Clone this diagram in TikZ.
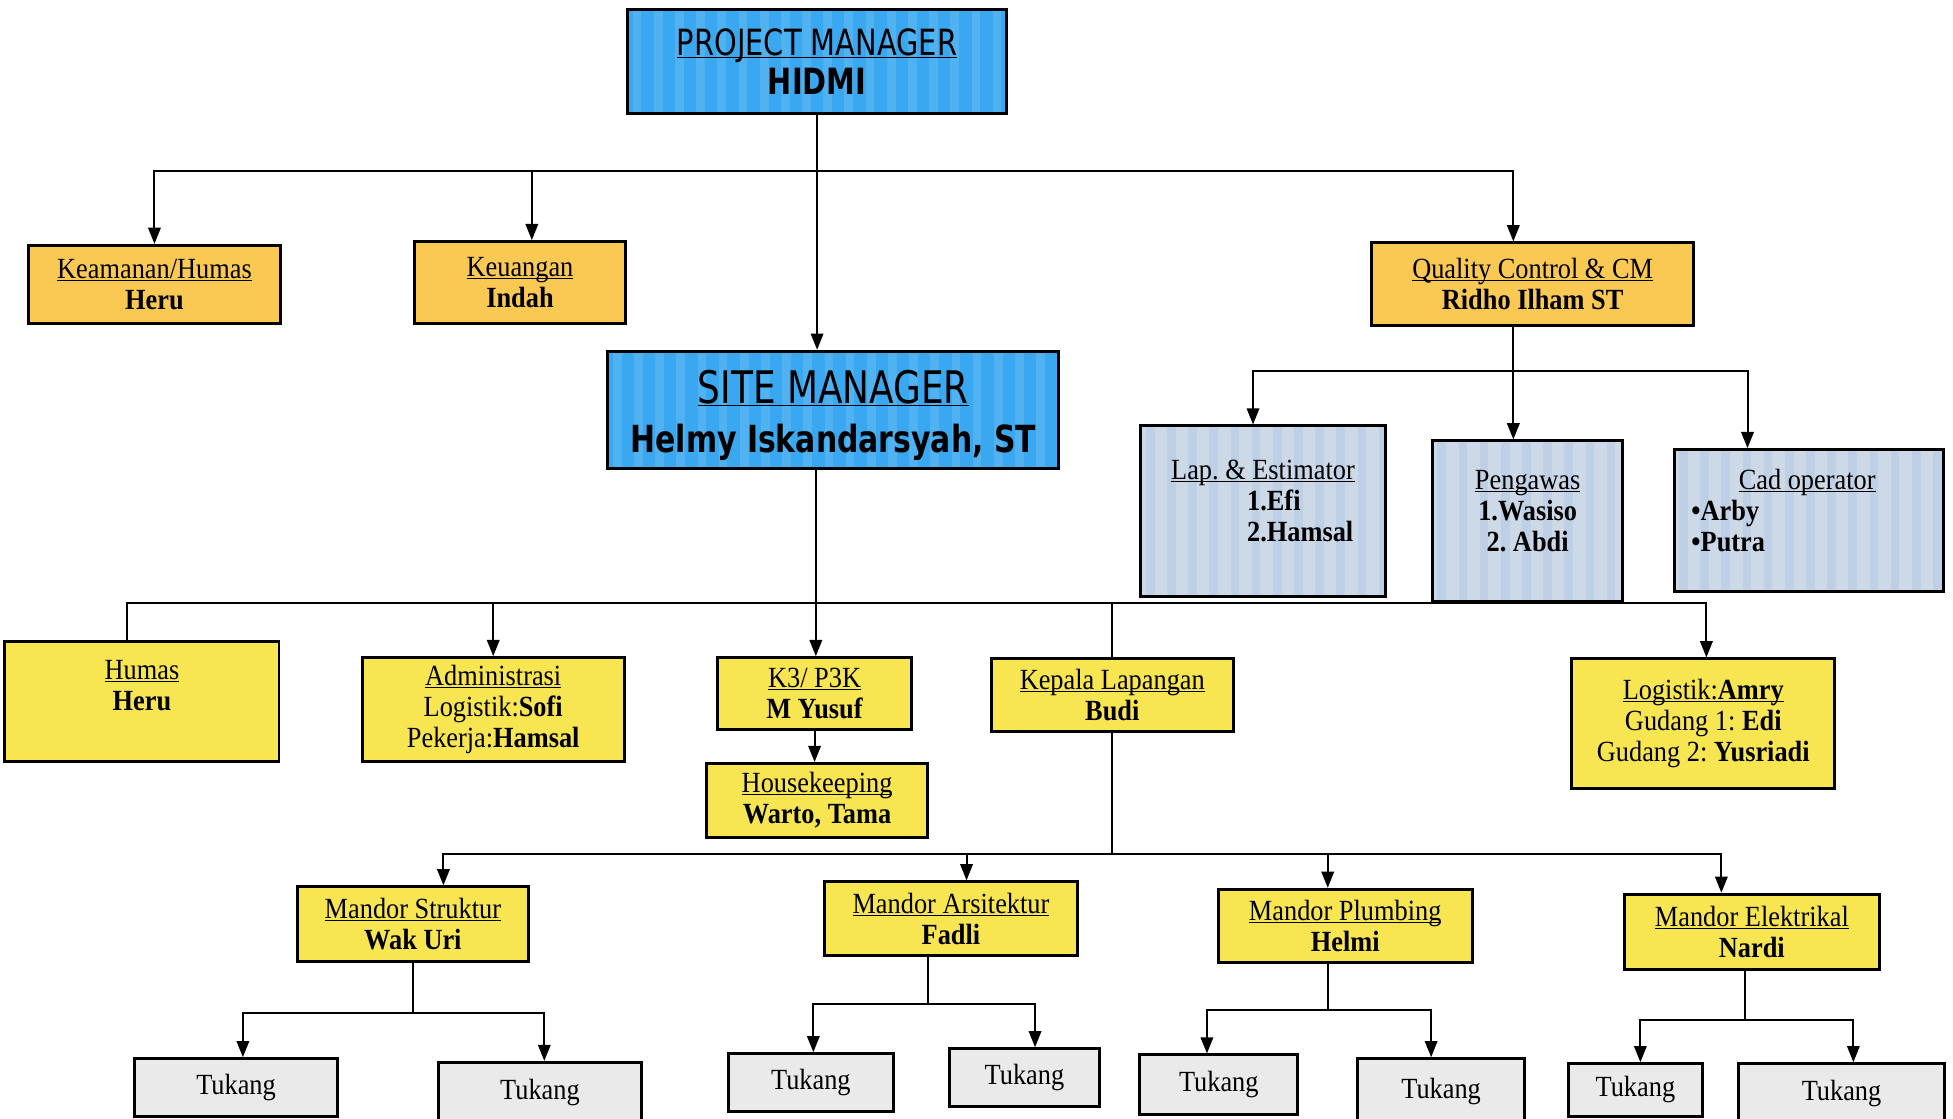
\documentclass[tikz,border=0pt]{standalone}
\usepackage{fontspec}
\setmainfont{Liberation Serif}[FakeStretch = 0.9]
\newfontfamily\headfont{DejaVu Sans}[FakeStretch = 0.8]
\usetikzlibrary{arrows.meta}
\frenchspacing

\definecolor{pmblue}{RGB}{58,168,240}
\definecolor{topyellow}{RGB}{249,201,84}
\definecolor{boxyellow}{RGB}{248,229,82}
\definecolor{qcgray}{RGB}{206,217,231}
\definecolor{qcstripe}{RGB}{150,188,228}
\definecolor{tukanggray}{RGB}{234,234,234}

% underline just below the baseline
\newcommand{\undl}[1]{\underline{\setbox0=\hbox{#1}\dp0=0pt\box0}}

\tikzset{
  box/.style = {draw, line width = 2.4pt, align = center, inner sep = 0pt,
    font = \fontsize{23.5}{25}\selectfont},
  stripes/.style = {path picture = {
      \foreach \s in {0, 1, ..., 22}
        \fill [#1] ([xshift = \s * 17pt + 4pt] path picture bounding box.north west)
          rectangle ([xshift = \s * 17pt + 11pt] path picture bounding box.south west);}},
  blue box/.style = {box, fill = pmblue, stripes = {white, opacity = 0.12}},
  top box/.style = {box, fill = topyellow},
  yellow box/.style = {box, fill = boxyellow},
  gray box/.style = {box, fill = qcgray, stripes = {qcstripe, opacity = 0.3}},
  tukang box/.style = {box, fill = tukanggray},
  line/.style = {line width = 1.6pt},
  arrow/.style = {line width = 1.6pt, -{Triangle[length = 13pt, width = 10pt]}}
}

\begin{document}
\begin{tikzpicture}[x = 1pt, y = -1pt]
  \useasboundingbox (0, 0) rectangle (1568, 898);
  \fill [white] (0, 0) rectangle (1568, 898);

  % top
  \node [blue box, minimum width = 304pt, minimum height = 83pt,
    font = \headfont\fontsize{29}{31}\selectfont] (pm) at (656, 49.5)
    {\undl{PROJECT MANAGER}\\\textbf{HIDMI}};
  \node [top box, minimum width = 202pt, minimum height = 63pt] (keamanan) at (124, 228.5)
    {\undl{Keamanan/Humas}\\\textbf{Heru}};
  \node [top box, minimum width = 169pt, minimum height = 66pt] (keuangan) at (417.5, 227)
    {\undl{Keuangan}\\\textbf{Indah}};
  \node [top box, minimum width = 259pt, minimum height = 66pt] (qc) at (1230.5, 228)
    {\undl{Quality Control \& CM}\\\textbf{Ridho Ilham ST}};
  \node [blue box, minimum width = 362pt, minimum height = 94pt,
    font = \headfont\fontsize{36}{39}\selectfont] (sm) at (669, 329)
    {\mbox{}\\[-3pt]\undl{SITE MANAGER}\\{\fontsize{30}{39}\selectfont\bfseries Helmy Iskandarsyah, ST}};

  % quality control staff
  \node [gray box, minimum width = 196pt, minimum height = 137pt, align = left] (lap) at (1014, 410.5)
    {\spaceskip=0pt\relax\undl{Lap. \& Estimator}\\\hspace*{61pt}\textbf{1.Efi}\\\hspace*{61pt}\textbf{2.Hamsal}\\[-8pt]\mbox{}};
  \node [gray box, minimum width = 153pt, minimum height = 129pt] (pengawas) at (1226.5, 418.5)
    {\undl{Pengawas}\\\textbf{1.Wasiso}\\\textbf{2. Abdi}\\[-8pt]\mbox{}};
  \node [gray box, minimum width = 216pt, minimum height = 114pt, inner xsep = 14pt,
    text width = 188pt, align = left] (cad) at (1452, 418)
    {\spaceskip=0pt\relax\hspace*{38pt}\undl{Cad operator}\\\textbf{•Arby}\\\textbf{•Putra}\\[-8pt]\mbox{}};

  % site staff
  \node [yellow box, minimum width = 220pt, minimum height = 96pt] (humas) at (114, 563)
    {\undl{Humas}\\\textbf{Heru}\\\mbox{}};
  \node [yellow box, minimum width = 210pt, minimum height = 83pt] (admin) at (396, 569.5)
    {\undl{Administrasi}\\Logistik:\textbf{Sofi}\\Pekerja:\textbf{Hamsal}};
  \node [yellow box, minimum width = 156pt, minimum height = 58pt] (kthree) at (654, 557)
    {\undl{K3/ P3K}\\\textbf{M Yusuf}};
  \node [yellow box, minimum width = 178pt, minimum height = 59pt] (house) at (656, 642.5)
    {\undl{Housekeeping}\\\textbf{Warto, Tama}};
  \node [yellow box, minimum width = 194pt, minimum height = 58pt] (kepala) at (893, 558)
    {\undl{Kepala Lapangan}\\\textbf{Budi}};
  \node [yellow box, minimum width = 211pt, minimum height = 104pt] (logistik) at (1367.5, 581)
    {\undl{Logistik:\textbf{Amry}}\\Gudang 1: \textbf{Edi}\\Gudang 2: \textbf{Yusriadi}};

  % mandor
  \node [yellow box, minimum width = 185pt, minimum height = 60pt] (mstruktur) at (331.5, 742)
    {\undl{Mandor Struktur}\\\textbf{Wak Uri}};
  \node [yellow box, minimum width = 203pt, minimum height = 59pt] (marsitektur) at (763.5, 737.5)
    {\undl{Mandor Arsitektur}\\\textbf{Fadli}};
  \node [yellow box, minimum width = 204pt, minimum height = 59pt] (mplumbing) at (1080, 743.5)
    {\undl{Mandor Plumbing}\\\textbf{Helmi}};
  \node [yellow box, minimum width = 205pt, minimum height = 60pt] (melektrikal) at (1406.5, 748)
    {\undl{Mandor Elektrikal}\\\textbf{Nardi}};

  % tukang
  \foreach \n/\x/\y/\w/\h in {t1/189.5/873/163/46, t2/433.5/877.5/163/49,
      t3/651/869/132/46, t4/822.5/865/121/46, t5/978.5/871/127/48,
      t6/1157/876/134/52, t7/1313/875/108/42, t8/1478.5/878/165/48}
    \node [tukang box, minimum width = \w pt, minimum height = \h pt] (\n) at (\x, \y) {Tukang};

  % connectors
  \coordinate (bus1) at (656, 137);
  \draw [arrow] (pm.south) -- (pm.south |- sm.north);
  \draw [arrow] (bus1) -| (keamanan.north);
  \draw [arrow] (bus1) -| ([xshift = 9.5pt] keuangan.north);
  \draw [arrow] (bus1) -| ([xshift = -15.5pt] qc.north);

  \coordinate (bus2) at (1215, 298);
  \draw [line] ([xshift = -15.5pt] qc.south) -- (bus2);
  \draw [arrow] (bus2) -| ([xshift = -8pt] lap.north);
  \draw [arrow] (bus2) -- ([xshift = -11.5pt] pengawas.north);
  \draw [arrow] (bus2) -| ([xshift = -49pt] cad.north);

  \coordinate (bus3) at (655, 484);
  \draw [line] ([xshift = -14pt] sm.south) -- (bus3);
  \draw [line] (bus3) -| ([xshift = -12pt] humas.north);
  \draw [arrow] (bus3) -| (admin.north);
  \draw [arrow] (bus3) -- (kthree.north -| bus3);
  \draw [line] (bus3) -| (kepala.north);
  \draw [arrow] (bus3) -| ([xshift = 2.5pt] logistik.north);
  \draw [arrow] (kthree.south) -- (kthree.south |- house.north);

  \coordinate (bus4) at (893, 686);
  \draw [line] (kepala.south) -- (bus4);
  \draw [arrow] (bus4) -| ([xshift = 24.5pt] mstruktur.north);
  \draw [arrow] (bus4) -| ([xshift = 12.5pt] marsitektur.north);
  \draw [arrow] (bus4) -| ([xshift = -14pt] mplumbing.north);
  \draw [arrow] (bus4) -| ([xshift = -24.5pt] melektrikal.north);

  \path (mstruktur.south) ++ (0, 40) coordinate (msbus);
  \draw [line] (mstruktur.south) -- (msbus);
  \draw [arrow] (msbus) -| ([xshift = 5.5pt] t1.north);
  \draw [arrow] (msbus) -| ([xshift = 3.5pt] t2.north);

  \path ([xshift = -18.5pt] marsitektur.south) ++ (0, 38) coordinate (mabus);
  \draw [line] ([xshift = -18.5pt] marsitektur.south) -- (mabus);
  \draw [arrow] (mabus) -| ([xshift = 2pt] t3.north);
  \draw [arrow] (mabus) -| ([xshift = 8.5pt] t4.north);

  \path ([xshift = -14pt] mplumbing.south) ++ (0, 37) coordinate (mpbus);
  \draw [line] ([xshift = -14pt] mplumbing.south) -- (mpbus);
  \draw [arrow] (mpbus) -| ([xshift = -9.5pt] t5.north);
  \draw [arrow] (mpbus) -| ([xshift = -8pt] t6.north);

  \path ([xshift = -5.5pt] melektrikal.south) ++ (0, 40) coordinate (mebus);
  \draw [line] ([xshift = -5.5pt] melektrikal.south) -- (mebus);
  \draw [arrow] (mebus) -| ([xshift = 4pt] t7.north);
  \draw [arrow] (mebus) -| ([xshift = 9.5pt] t8.north);
\end{tikzpicture}
\end{document}
